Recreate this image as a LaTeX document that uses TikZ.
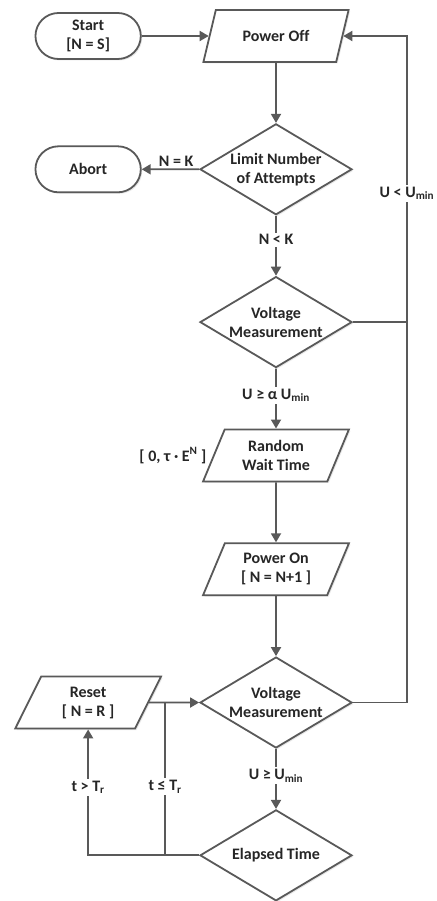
\documentclass[tikz,border=0pt]{standalone}
\usepackage{fontspec}
\setmainfont[Ligatures=NoCommon]{Carlito}
\usetikzlibrary{positioning,arrows.meta,shapes.geometric,shapes.misc,shadows}

\definecolor{linegray}{HTML}{595959}
\definecolor{textgray}{HTML}{262626}

\begin{document}
\begin{tikzpicture}[
			node distance=60pt,
			every node/.style={
					font=\fontsize{16}{19}\selectfont\bfseries,
					text=textgray,
					align=center
				},
			box/.style={
					draw=linegray,
					line width=1.8pt,
					fill=white,
					drop shadow={shadow xshift=1.5pt,shadow yshift=-1.5pt,
							opacity=0.18,fill=black!50}
				},
			term/.style={
					box,
					rounded rectangle,
					minimum width=112pt,
					minimum height=46pt
				},
			io/.style={
					box,
					trapezium,
					trapezium left angle=67,
					trapezium right angle=113,
					trapezium stretches=true,
					minimum width=146pt,
					minimum height=52pt
				},
			decision/.style={
					box,
					diamond,
					aspect=1.67,
					inner sep=-6pt,
					minimum width=152pt,
					minimum height=91pt
				},
			lbl/.style={fill=white,inner sep=2pt},
			line/.style={draw=linegray,line width=1.8pt},
			>={Triangle[length=9pt,width=10pt]}
		]

		\useasboundingbox (0,0) rectangle (436pt,-901pt);

		\node (poweroff) [io] at (276pt,-36pt) {Power Off};

		\node (start) [term, left=67pt of poweroff]
		{Start\\{[}N = S{]}};

		\node (limit) [decision, below=of poweroff]
		{Limit Number\\of Attempts};

		\node (abort) [term] at (start |- limit) {Abort};

		\node (volt1) [decision, below=of limit]
		{Voltage\\Measurement};

		\node (wait) [io, below=of volt1]
		{Random\\Wait Time};

		\node (range) [left=3pt of wait]
		{{[} 0, τ · E\textsuperscript{N} {]}};

		\node (poweron) [io, below=of wait]
		{Power On\\{[} N = N+1 {]}};

		\node (volt2) [decision, below=of poweron]
		{Voltage\\Measurement};

		\node (elapsed) [decision, below=of volt2]
		{Elapsed Time};

		\node (reset) [io] at (start |- volt2)
		{Reset\\{[} N = R {]}};

		\coordinate (loop) at ([xshift=54pt]volt2.east);
		\coordinate (split) at ([xshift=-34pt]elapsed.west);

		\draw[->,line] (start) -- (poweroff);
		\draw[->,line] (poweroff) -- (limit);
		\draw[->,line] (limit) -- node[lbl, above, pos=0.4, fill=none] {N = K} (abort);
		\draw[->,line] (limit) -- node[lbl, pos=0.4] {N < K} (volt1);
		\draw[->,line] (volt1) -- node[lbl, pos=0.45] {U ≥ α U\textsubscript{min}} (wait);
		\draw[->,line] (wait) -- (poweron);
		\draw[->,line] (poweron) -- (volt2);
		\draw[->,line] (volt2) -- node[lbl, pos=0.45] {U ≥ U\textsubscript{min}} (elapsed);

		% back to power off
		\draw[->,line] (volt2.east) -- (loop) |- (poweroff.east);
		\draw[line] (volt1.east) -- (volt1.east -| loop);
		\node[lbl] at ([yshift=-24pt]loop |- limit) {U < U\textsubscript{min}};

		% elapsed time
		\draw[->,line] (reset.east) -- (volt2.west);
		\draw[->,line] (elapsed.west) -| node[lbl, pos=0.77] {t > T\textsubscript{r}} (reset.south);
		\draw[line] (split) -- node[lbl, pos=0.45] {t ≤ T\textsubscript{r}} (split |- volt2.west);

	\end{tikzpicture}
\end{document}
